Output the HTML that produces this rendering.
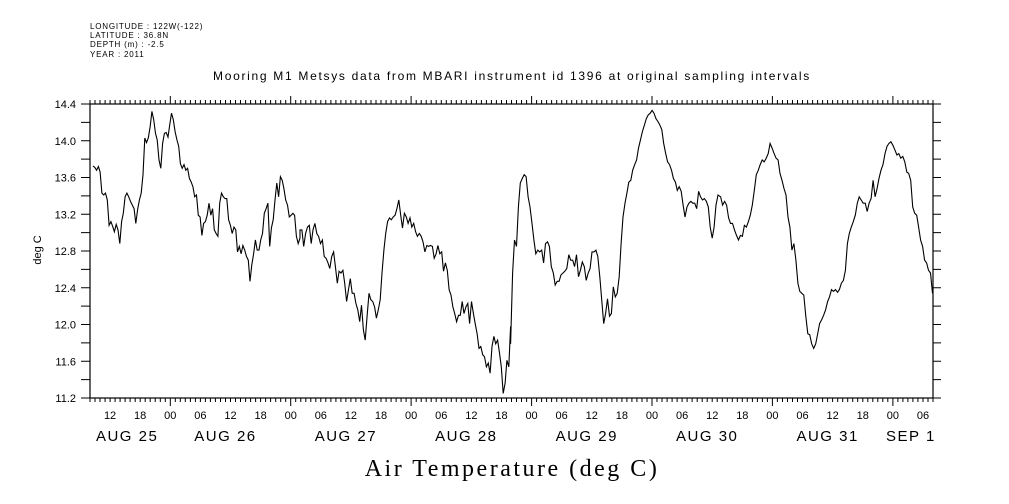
<!DOCTYPE html>
<html><head><meta charset="utf-8"><style>
html,body{margin:0;padding:0;background:#fff;}
svg{display:block;font-family:"Liberation Sans",sans-serif;}
</style></head><body>
<svg id="chart" width="1009" height="504" viewBox="0 0 1009 504" xmlns="http://www.w3.org/2000/svg">
<g font-size="8" fill="#000" letter-spacing="0.8">
<text x="90" y="29">LONGITUDE : 122W(-122)</text>
<text x="90" y="38">LATITUDE : 36.8N</text>
<text x="90" y="47">DEPTH (m) : -2.5</text>
<text x="90" y="57">YEAR : 2011</text>
</g>
<text x="512" y="80" font-size="12" letter-spacing="1.7" text-anchor="middle">Mooring M1 Metsys data from MBARI instrument id 1396 at original sampling intervals</text>
<text transform="translate(41,250) rotate(-90)" font-size="11" text-anchor="middle">deg C</text>
<text x="512" y="476" font-family="Liberation Serif, serif" font-size="24" letter-spacing="2.5" text-anchor="middle">Air Temperature (deg C)</text>
<g id="axes"></g>
<g id="series"></g>
</svg>
<script>
const yTicks=[11.2,11.6,12.0,12.4,12.8,13.2,13.6,14.0,14.4];
const hourLabels=["12","18","00","06","12","18","00","06","12","18","00","06","12","18","00","06","12","18","00","06","12","18","00","06","12","18","00","06","12","18","00","06"];
const hourLabelHours=[4,10,16,22,28,34,40,46,52,58,64,70,76,82,88,94,100,106,112,118,124,130,136,142,148,154,160,166,172,178,184,190];
const dayLabels=["AUG 25","AUG 26","AUG 27","AUG 28","AUG 29","AUG 30","AUG 31","SEP  1"];
const dayLabelHours=[7.4,27,51,75,99,123,147,163.6];
const seg1Start=0.6, seg1End=41.85;
const seg1=[13.725,13.71,13.68,13.72,13.66,13.43,13.41,13.43,13.355,13.08,13.12,13.07,13.01,13.09,13.03,12.88,13.12,13.21,13.39,13.43,13.39,13.34,13.30,13.26,13.10,13.25,13.355,13.43,13.63,14.03,13.98,14.03,14.15,14.32,14.23,14.08,14.01,13.79,13.70,13.97,14.08,14.09,14.04,14.17,14.30,14.23,14.10,14.01,13.94,13.75,13.70,13.74,13.68,13.70,13.59,13.55,13.50,13.39,13.41,13.19,13.17,12.97,13.10,13.12,13.19,13.32,13.19,13.26,13.03,12.99,12.96,13.32,13.43,13.39,13.37,13.37,13.14,13.08,12.99,13.06,13.03,12.79,12.85,12.77,12.86,12.81,12.74,12.70,12.47,12.65,12.77,12.92,12.81,12.81,12.92,12.99,13.21,13.26,13.32,12.85,13.05,13.14,13.355,13.54,13.39,13.61,13.57,13.48,13.355,13.30,13.17,13.19,13.21,13.19,12.96,12.88,12.94];
const seg2Start=41.85, seg2End=83.83;
const seg2=[13.03,13.03,12.85,12.99,13.06,13.08,12.88,13.03,13.10,12.99,12.96,12.88,12.92,12.74,12.72,12.67,12.61,12.74,12.79,12.63,12.45,12.58,12.56,12.59,12.45,12.25,12.38,12.50,12.34,12.34,12.23,12.16,12.03,12.21,11.94,11.83,12.09,12.34,12.27,12.25,12.19,12.07,12.16,12.27,12.56,12.81,12.99,13.12,13.16,13.14,13.17,13.19,13.26,13.355,13.19,13.05,13.21,13.17,13.10,13.16,13.06,13.10,13.01,12.96,12.99,12.96,12.90,12.79,12.86,12.85,12.86,12.85,12.72,12.77,12.86,12.77,12.79,12.58,12.67,12.59,12.38,12.32,12.19,12.12,12.03,12.10,12.10,12.25,12.12,12.19,12.23,12.01,12.25,12.12,12.01,11.90,11.74,11.76,11.67,11.65,11.54,11.58,11.47,11.76,11.87,11.79,11.83,11.69,11.54,11.25,11.36,11.61,11.54,11.98];
const seg3Start=83.83, seg3End=125.15;
const seg3=[11.79,12.56,12.92,12.85,13.28,13.54,13.59,13.63,13.61,13.39,13.28,13.10,12.92,12.77,12.81,12.79,12.81,12.67,12.88,12.90,12.85,12.63,12.56,12.43,12.47,12.47,12.54,12.56,12.58,12.61,12.76,12.70,12.70,12.63,12.76,12.52,12.59,12.68,12.63,12.48,12.56,12.61,12.79,12.79,12.81,12.74,12.52,12.27,12.01,12.12,12.28,12.09,12.12,12.41,12.30,12.34,12.52,12.88,13.17,13.32,13.43,13.55,13.57,13.68,13.74,13.79,13.92,14.01,14.10,14.17,14.24,14.28,14.30,14.33,14.30,14.24,14.21,14.17,14.12,13.97,13.86,13.77,13.74,13.68,13.59,13.55,13.46,13.50,13.45,13.30,13.17,13.28,13.32,13.34,13.32,13.32,13.26,13.45,13.39,13.355,13.37,13.34,13.28,13.06,12.94,13.06,13.30,13.41];
const seg4Start=125.68, seg4End=167.9;
const seg4=[13.39,13.30,13.34,13.30,13.16,13.10,13.10,13.03,12.97,12.92,12.97,12.96,13.08,13.06,13.12,13.19,13.30,13.46,13.63,13.68,13.74,13.79,13.77,13.81,13.86,13.97,13.92,13.86,13.81,13.79,13.645,13.57,13.48,13.41,13.17,13.06,12.81,12.88,12.70,12.45,12.36,12.34,12.32,12.09,11.90,11.89,11.79,11.74,11.79,11.90,12.01,12.05,12.10,12.16,12.25,12.30,12.38,12.36,12.38,12.35,12.38,12.45,12.48,12.59,12.88,12.99,13.06,13.12,13.19,13.32,13.39,13.355,13.32,13.32,13.23,13.32,13.37,13.57,13.39,13.48,13.59,13.68,13.74,13.86,13.94,13.97,13.99,13.95,13.90,13.845,13.86,13.81,13.83,13.77,13.66,13.645,13.57,13.28,13.21,13.19,13.06,12.92,12.85,12.70,12.67,12.59,12.56,12.34];

const X0=90,X1=933,Y0=398,Y1=104,H0=0,H1=168,V0=11.2,V1=14.4;
const xs=h=>X0+(h-H0)/(H1-H0)*(X1-X0);
const ys=v=>Y0-(v-V0)/(V1-V0)*(Y0-Y1);
const NS="http://www.w3.org/2000/svg";
function mk(tag,attrs,parent){const e=document.createElementNS(NS,tag);for(const k in attrs)e.setAttribute(k,attrs[k]);parent.appendChild(e);return e;}
const axes=document.getElementById('axes');
const frame=mk('rect',{x:X0,y:Y1,width:X1-X0,height:Y0-Y1,fill:'none',stroke:'#000','stroke-width':1.2},axes);


let d='';
for(let v=V0;v<=V1+1e-6;v+=0.2){const y=ys(v).toFixed(1);d+=`M${X0-9} ${y}H${X0}M${X1} ${y}H${X1+8}`;}
for(let h=0;h<=H1;h++){const x=xs(h).toFixed(1);const major=((h+8)%24===0);const L=major?8:4;d+=`M${x} ${Y0}V${Y0+L}M${x} ${Y1}V${Y1-L}`;}
const ticks=mk('path',{d:d,stroke:'#000','stroke-width':1,fill:'none'},axes);


yTicks.forEach(v=>{const t=mk('text',{x:76,y:ys(v)+4,'font-size':11,'text-anchor':'end'},axes);t.textContent=v.toFixed(1);

});
hourLabels.forEach((s,i)=>{if(hourLabelHours[i]>H1)return;const t=mk('text',{x:xs(hourLabelHours[i]),y:419,'font-size':11,'text-anchor':'middle'},axes);t.textContent=s;

});
dayLabels.forEach((s,i)=>{const t=mk('text',{x:xs(dayLabelHours[i]),y:441,'font-size':15,'letter-spacing':1.5,'text-anchor':'middle','xml:space':'preserve'},axes);t.textContent=s;

});
const series=document.getElementById('series');
let pd='';
[[seg1,seg1Start,seg1End],[seg2,seg2Start,seg2End],[seg3,seg3Start,seg3End],[seg4,seg4Start,seg4End]].forEach(([arr,a,b])=>{
 arr.forEach((v,i)=>{const h=a+(b-a)*i/(arr.length-1);pd+=(pd?'L':'M')+xs(h).toFixed(1)+' '+ys(v).toFixed(1);});
});
const line=mk('path',{d:pd,fill:'none',stroke:'#000','stroke-width':1.1,'stroke-linejoin':'miter'},series);


</script>
</body></html>
